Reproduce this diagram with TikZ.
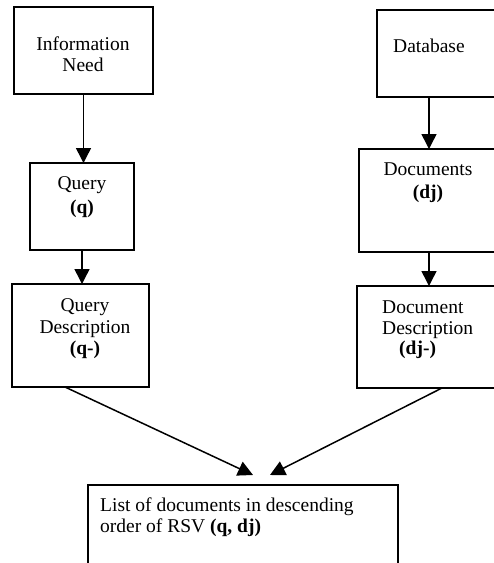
\documentclass[tikz,border=0pt]{standalone}
\usepackage{fontspec}
\setmainfont{Liberation Serif}
\usetikzlibrary{arrows.meta}
\begin{document}
\begin{tikzpicture}[x=1pt,y=-1pt,
  box/.style={draw, line width=1.4pt, inner sep=0pt, outer sep=0pt},
  arr/.style={line width=1.5pt, -{Triangle[length=15pt,width=15pt]}},
  lbl/.style={anchor=base, inner sep=0pt, font=\fontsize{19.5}{22}\selectfont},
  lblw/.style={anchor=base west, inner sep=0pt, font=\fontsize{19.5}{22}\selectfont}]
\useasboundingbox (0,0) rectangle (494,563);
\clip (0,0) rectangle (494,563);
% boxes
\node[box, minimum width=139pt, minimum height=87pt] (info) at (83.5,50.5) {};
\node[box, minimum width=104pt, minimum height=87pt] (query) at (82,206.5) {};
\node[box, minimum width=137pt, minimum height=103pt] (qdesc) at (80.5,335.5) {};
\node[box, minimum width=143pt, minimum height=87pt] (db) at (448.5,53.5) {};
\node[box, minimum width=161pt, minimum height=103pt] (docs) at (439.5,200.5) {};
\node[box, minimum width=163pt, minimum height=102pt] (ddesc) at (438.5,337) {};
\node[box, minimum width=310pt, minimum height=105pt] (list) at (243,537.5) {};
% texts
\node[lbl] (t1a) at (83,50) {Information};
\node[lbl] (t1b) at (83,71) {Need};
\node[lbl] (t2a) at (82,189) {Query};
\node[lbl] (t2b) at (82,213) {\textbf{(q)}};
\node[lbl] (t3a) at (85,311) {Query};
\node[lbl] (t3b) at (85,333) {Description};
\node[lbl] (t3c) at (85,354) {\textbf{(q-)}};
\node[lblw] (t4a) at (393,52) {Database};
\node[lbl] (t5a) at (428,175) {Documents};
\node[lbl] (t5b) at (428,198) {\textbf{(dj)}};
\node[lblw] (t6a) at (382,313) {Document};
\node[lblw] (t6b) at (382,334) {Description};
\node[lblw] (t6c) at (399,354) {\textbf{(dj-)}};
\node[lblw] (t7a) at (100,511) {List of documents in descending};
\node[lblw] (t7b) at (100,532) {order of RSV \textbf{(q, dj)}};
% connector coordinates
\coordinate (dbo) at ([xshift=52pt]db.south west);
\coordinate (dci) at (dbo |- docs.north);
\coordinate (dco) at ([xshift=70pt]docs.south west);
\coordinate (ddi) at (dco |- ddesc.north);
\coordinate (qdo) at ([xshift=53pt]qdesc.south west);
\coordinate (ddo) at ([xshift=85pt]ddesc.south west);
\coordinate (lqi) at (253,475);
\coordinate (ldi) at (270,475);
% connectors
\draw[arr] (info.south) -- (info.south |- query.north);
\draw[arr] (query.south) -- (query.south |- qdesc.north);
\draw[arr] (dbo) -- (dci);
\draw[arr] (dco) -- (ddi);
\draw[arr] (qdo) -- (lqi);
\draw[arr] (ddo) -- (ldi);
\end{tikzpicture}
\end{document}
